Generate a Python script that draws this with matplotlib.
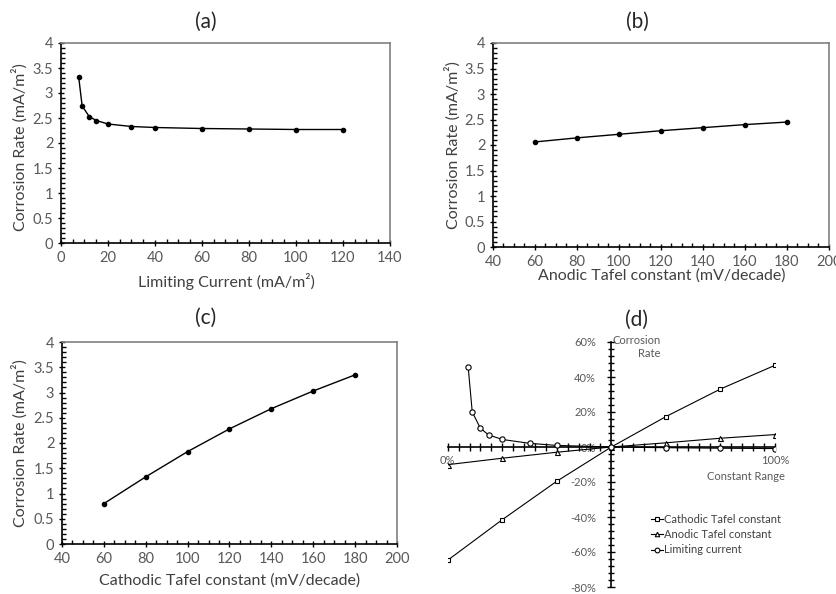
import matplotlib
matplotlib.use("Agg")
import matplotlib.pyplot as plt
from matplotlib.ticker import MultipleLocator, FixedLocator, FuncFormatter
import numpy as np

plt.rcParams['font.family'] = ['Lato', 'DejaVu Sans']

# (a) limiting current
lim_x = [7.5, 9, 12, 15, 20, 30, 40, 60, 80, 100, 120]
lim_y = [3.33, 2.74, 2.53, 2.45, 2.38, 2.33, 2.31, 2.29, 2.28, 2.27, 2.27]

# (b) anodic tafel constant
tafel_x = [60, 80, 100, 120, 140, 160, 180]
ano_y = [2.06, 2.14, 2.21, 2.28, 2.34, 2.40, 2.45]

# (c) cathodic tafel constant
cat_y = [0.80, 1.33, 1.83, 2.28, 2.68, 3.03, 3.35]

# (d) relative change (%) against constant range (%)
rng_tafel = [0, 16.7, 33.3, 50, 66.7, 83.3, 100]
rng_lim = [6.25, 7.5, 10, 12.5, 16.7, 25, 33.3, 50, 66.7, 83.3, 100]
d_cat = [-64.7, -41.5, -19.6, 0, 17.4, 33.1, 46.7]
d_ano = [-10.1, -6.4, -3.0, 0, 2.4, 5.0, 7.1]
d_lim = [45.8, 20.0, 10.7, 6.9, 4.3, 2.1, 0.9, 0, -0.4, -0.7, -0.9]

W, H = 837, 594
fig = plt.figure(figsize=(W / 100, H / 100), dpi=100)

def px(l, t, r, b):
    return [l / W, 1 - b / H, (r - l) / W, (b - t) / H]

tick_col = '#595959'
lab_col = '#404040'

def excel_axes(ax, xlim, xmaj, xmin):
    ax.set_xlim(*xlim)
    ax.set_ylim(0, 4)
    ax.xaxis.set_major_locator(MultipleLocator(xmaj))
    ax.xaxis.set_minor_locator(MultipleLocator(xmin))
    ax.yaxis.set_major_locator(MultipleLocator(0.5))
    ax.yaxis.set_minor_locator(MultipleLocator(0.1))
    ax.yaxis.set_major_formatter(FuncFormatter(lambda v, p: f"{v:g}"))
    ax.tick_params(which='major', direction='inout', length=5, width=1,
                   labelsize=10.5, labelcolor=tick_col, color='black', pad=3)
    ax.tick_params(which='minor', direction='in', length=3, width=1, color='black')
    for s in ['left', 'bottom']:
        ax.spines[s].set_color('black')
        ax.spines[s].set_linewidth(1.2)
    for s in ['top', 'right']:
        ax.spines[s].set_color('#808080')
        ax.spines[s].set_linewidth(1.2)

ylab = 'Corrosion Rate (mA/m²)'
lab_fs = 11.5
title_fs = 15

# (a)
ax1 = fig.add_axes(px(61, 43, 390, 243))
ax1.plot(lim_x, lim_y, '-o', color='black', lw=1, ms=3)
excel_axes(ax1, (0, 140), 20, 5)
fig.text(20 / W, 1 - 147 / H, ylab, rotation=90, ha='center', va='center', fontsize=lab_fs, color=lab_col)
fig.text(226 / W, 1 - 281 / H, 'Limiting Current (mA/m²)', ha='center', va='center', fontsize=lab_fs, color=lab_col)
fig.text(206 / W, 1 - 22 / H, '(a)', ha='center', va='center', fontsize=title_fs, color='#262626')

# (b)
ax2 = fig.add_axes(px(493, 43, 829, 247))
ax2.plot(tafel_x, ano_y, '-o', color='black', lw=1, ms=3)
excel_axes(ax2, (40, 200), 20, 5)
fig.text(453 / W, 1 - 145 / H, ylab, rotation=90, ha='center', va='center', fontsize=lab_fs, color=lab_col)
fig.text(662 / W, 1 - 276 / H, 'Anodic Tafel constant (mV/decade)', ha='center', va='center', fontsize=lab_fs, color=lab_col)
fig.text(637 / W, 1 - 22 / H, '(b)', ha='center', va='center', fontsize=title_fs, color='#262626')

# (c)
ax3 = fig.add_axes(px(62, 342, 397, 544))
ax3.plot(tafel_x, cat_y, '-o', color='black', lw=1, ms=3)
excel_axes(ax3, (40, 200), 20, 5)
fig.text(20 / W, 1 - 443 / H, ylab, rotation=90, ha='center', va='center', fontsize=lab_fs, color=lab_col)
fig.text(230 / W, 1 - 581 / H, 'Cathodic Tafel constant (mV/decade)', ha='center', va='center', fontsize=lab_fs, color=lab_col)
fig.text(206 / W, 1 - 318 / H, '(c)', ha='center', va='center', fontsize=title_fs, color='#262626')

# (d)
ax4 = fig.add_axes(px(447.7, 342, 775, 587))
ax4.set_xlim(0, 100)
ax4.set_ylim(-80, 60)
ax4.plot(rng_tafel, d_cat, '-s', color='black', lw=0.8, ms=3.3, mfc='white', mew=0.8,
         label='Cathodic Tafel constant', zorder=3)
ax4.plot(rng_tafel, d_ano, '-^', color='black', lw=0.8, ms=3.6, mfc='white', mew=0.8,
         label='Anodic Tafel constant', zorder=3)
ax4.plot(rng_lim, d_lim, '-o', color='black', lw=0.8, ms=3.8, mfc='white', mew=0.8,
         label='Limiting current', zorder=3)
ax4.spines['top'].set_visible(False)
ax4.spines['right'].set_visible(False)
ax4.spines['left'].set_position(('data', 50))
ax4.spines['bottom'].set_position(('data', 0))
for s in ['left', 'bottom']:
    ax4.spines[s].set_linewidth(1.2)
ax4.xaxis.set_major_locator(FixedLocator(np.linspace(0, 100, 31)))
ax4.xaxis.set_major_formatter(FuncFormatter(lambda v, p: f"{v:.0f}%" if v in (0, 100) else ""))
ax4.yaxis.set_major_locator(MultipleLocator(20))
ax4.yaxis.set_minor_locator(MultipleLocator(4))
ax4.yaxis.set_major_formatter(FuncFormatter(lambda v, p: f"{v:.0f}%"))
ax4.tick_params(axis='x', which='major', direction='inout', length=6, width=1,
                labelsize=8, labelcolor=tick_col, pad=3)
ax4.tick_params(axis='y', which='major', direction='inout', length=6, width=1,
                labelsize=8, labelcolor=tick_col, pad=8)
ax4.tick_params(axis='y', which='minor', direction='inout', length=5, width=1)
ax4.patch.set_alpha(0)
ax4.text(65.1, 57.2, 'Corrosion\nRate', ha='right', va='center', multialignment='right',
         fontsize=8, color=tick_col, linespacing=1.3)
ax4.text(91.0, -16.8, 'Constant Range', ha='center', va='center', fontsize=8, color=tick_col)
fig.text(637 / W, 1 - 320 / H, '(d)', ha='center', va='center', fontsize=title_fs, color='#262626')
ax4.legend(loc='upper left', bbox_to_anchor=(645 / W, 1 - 508 / H), bbox_transform=fig.transFigure,
           frameon=False, fontsize=8, handlelength=1.1, handletextpad=0.15,
           borderpad=0, labelspacing=0.4, labelcolor=lab_col, markerscale=0.9)

fig.savefig('out.png', dpi=100)
